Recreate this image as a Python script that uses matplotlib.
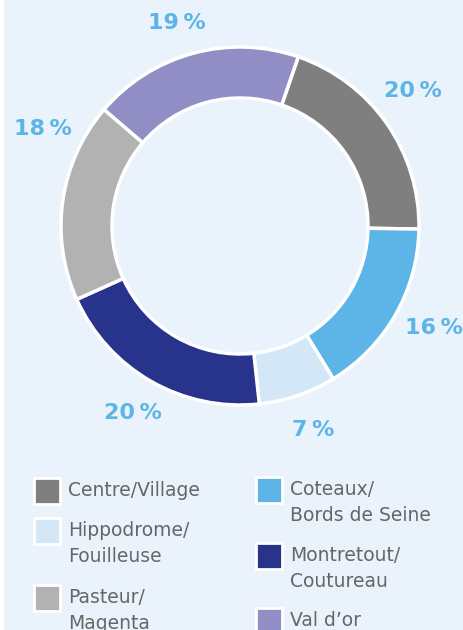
import numpy as np
import matplotlib
matplotlib.use("Agg")
import matplotlib.pyplot as plt
from matplotlib.patches import Rectangle

# donnees du graphique
quartiers = ["Centre/Village", "Coteaux/\nBords de Seine", "Hippodrome/\nFouilleuse",
             "Montretout/\nCoutureau", "Pasteur/\nMagenta", "Val d\u2019or"]
parts = [20, 16, 7, 20, 18, 19]
etiquettes = ["20\u2009%", "16\u2009%", "7\u2009%", "20\u2009%", "18\u2009%", "19\u2009%"]
couleurs = ["#7f7f7f", "#5db4e7", "#d3e7f7", "#28338c", "#b2b2b2", "#918ec5"]

fond = "#eaf3fc"
bleu_txt = "#5cb5e6"

W, H = 463, 630
fig = plt.figure(figsize=(W / 100, H / 100), dpi=100, facecolor=fond)
ax = fig.add_axes([0, 0, 1, 1])
ax.set_facecolor(fond)

# anneau
cx, cy, R = 240, H - 226, 179
debut = 90 - 19  # premier secteur commence un peu a droite du haut
ax.pie(parts, colors=couleurs, startangle=debut, counterclock=False,
       radius=R, center=(cx, cy), frame=True,
       wedgeprops=dict(width=51, edgecolor="white", linewidth=2.5))

# pourcentages autour de l'anneau
decalage = [-3, -2, -1, 0, 18, -2]  # petits ajustements manuels (degres)
rayon_txt = [219, 219, 217, 215, 220, 212]
cumul = np.cumsum([0] + parts[:-1])
for i, p in enumerate(parts):
    milieu = 19 + (cumul[i] + p / 2) * 3.6 + decalage[i]  # horaire depuis le haut
    a = np.deg2rad(milieu)
    x = cx + rayon_txt[i] * np.sin(a)
    y = cy + rayon_txt[i] * np.cos(a)
    ax.text(x, y, etiquettes[i], color=bleu_txt, fontsize=16, fontweight="bold",
            family="DejaVu Sans", ha="center", va="center")

# legende faite a la main
col_x = [34, 256]
lignes_y = [[491, 531, 598], [490, 556, 621]]
ordre = [[0, 2, 4], [1, 3, 5]]
for c in range(2):
    for r in range(3):
        k = ordre[c][r]
        y0 = H - lignes_y[c][r]
        ax.add_patch(Rectangle((col_x[c], y0 - 13), 26, 26, facecolor=couleurs[k],
                               edgecolor="white", linewidth=2, clip_on=False))
        ax.text(col_x[c] + 34, y0 + 10, quartiers[k], color="#666666", fontsize=13.5,
                family="DejaVu Sans", ha="left", va="top", linespacing=1.45)

# petite bande blanche a gauche
ax.add_patch(Rectangle((0, 0), 4, H, facecolor="white", edgecolor="none"))

ax.set_xlim(0, W)
ax.set_ylim(0, H)
ax.set_aspect("auto")
ax.axis("off")

fig.savefig("out.png", dpi=100, facecolor=fond)
